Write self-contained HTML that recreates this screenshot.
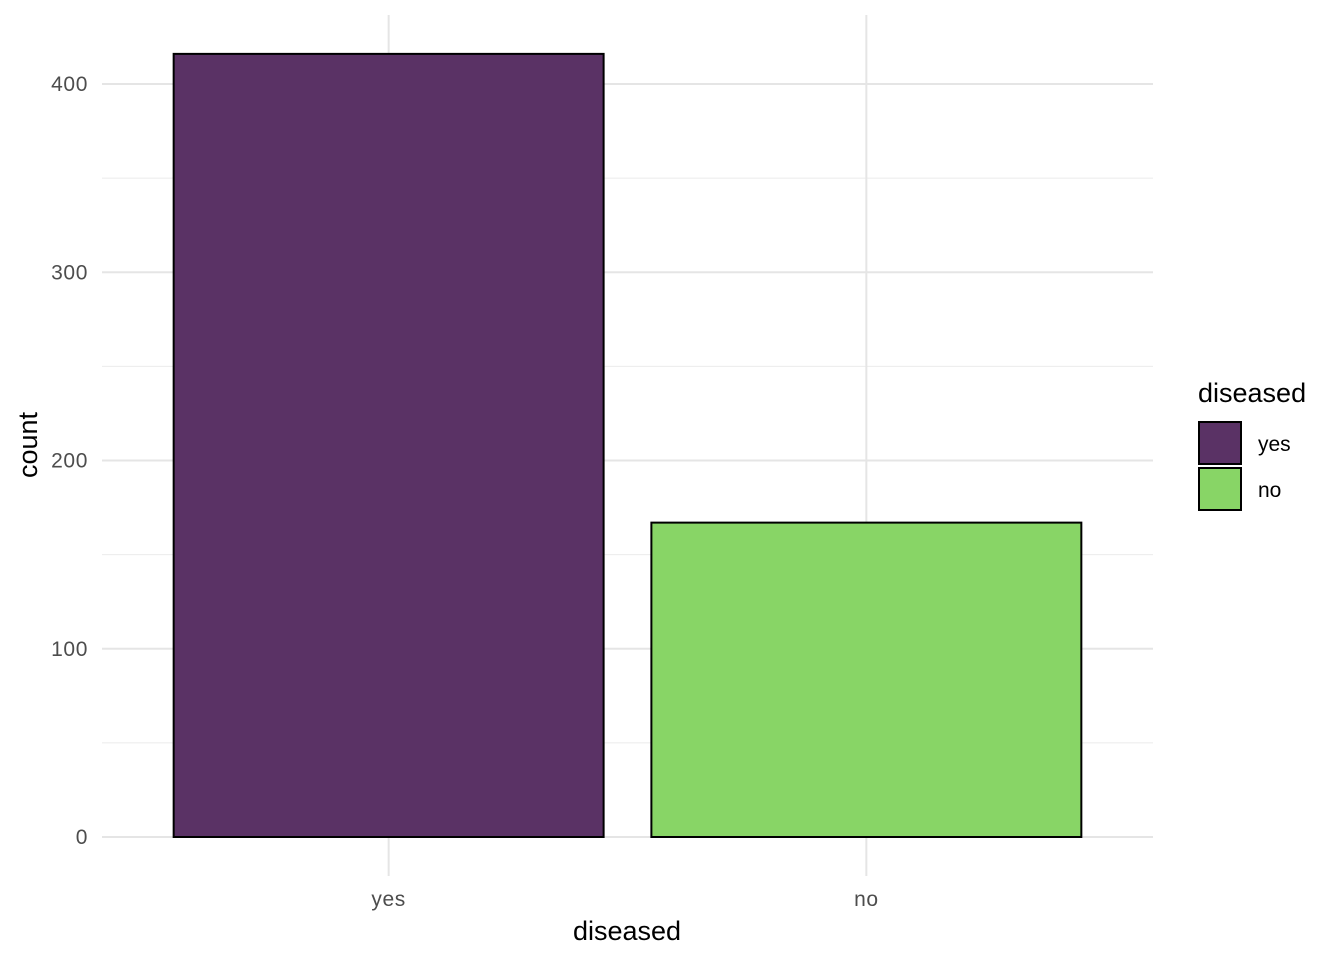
<!DOCTYPE html>
<html><head><meta charset="utf-8"><style>
body{margin:0;background:#fff;}
svg{display:block;font-family:"Liberation Sans",Arial,sans-serif;}
</style></head><body>
<svg id="chart" width="1344" height="960"></svg>
<script>
const categories=["yes","no"];
const counts=[416,167];
const fills=["#5a3265","#88d566"];
const yTicks=[0,100,200,300,400];
const yMinor=[50,150,250,350];
const ns="http://www.w3.org/2000/svg";
const svg=document.getElementById('chart');
const px0=102,px1=1153,py0=837,pyPer=1.8825,pTop=15,pBot=876;
const band=(px1-px0)/(categories.length+0.2);
function x(i){return px0+band*0.6+i*band;}
function y(v){return py0-v*pyPer;}
function mk(t,a,txt){const e=document.createElementNS(ns,t);for(const k in a)e.setAttribute(k,a[k]);if(txt!==undefined)e.textContent=txt;svg.appendChild(e);return e;}
yMinor.forEach(v=>{const l=mk('line',{x1:px0,x2:px1,y1:y(v),y2:y(v),stroke:'#ebebeb','stroke-width':1});

});
yTicks.forEach(v=>{const l=mk('line',{x1:px0,x2:px1,y1:y(v),y2:y(v),stroke:'#e5e5e5','stroke-width':2});


const t=mk('text',{x:88,y:y(v)+7,'text-anchor':'end','font-size':21,'letter-spacing':'0.6',fill:'#4d4d4d'},v);

});
categories.forEach((c,i)=>{const l=mk('line',{x1:x(i),x2:x(i),y1:pTop,y2:pBot,stroke:'#e5e5e5','stroke-width':2});

});
categories.forEach((c,i)=>{const w=band*0.9;
const r=mk('rect',{x:x(i)-w/2,y:y(counts[i]),width:w,height:y(0)-y(counts[i]),fill:fills[i],stroke:'#000','stroke-width':2});


const t=mk('text',{x:x(i),y:906,'text-anchor':'middle','font-size':21,'letter-spacing':'0.6',fill:'#4d4d4d'},c);

});
let t=mk('text',{x:627,y:940,'text-anchor':'middle','font-size':27,fill:'#000'},'diseased');


t=mk('text',{x:0,y:0,transform:'translate(37,445) rotate(-90)','text-anchor':'middle','font-size':27,fill:'#000'},'count');


t=mk('text',{x:1198,y:402,'font-size':27,fill:'#000'},'diseased');


categories.forEach((c,i)=>{const r=mk('rect',{x:1199,y:422+i*46,width:42,height:42,fill:fills[i],stroke:'#000','stroke-width':2});


const l=mk('text',{x:1258,y:451+i*46,'font-size':21,fill:'#000'},c);

});
</script>
</body></html>
